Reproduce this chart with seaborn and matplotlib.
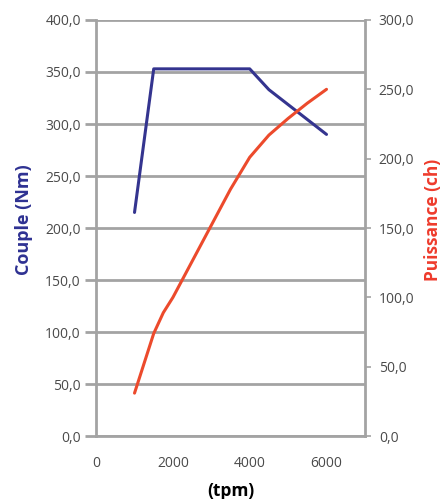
import pandas as pd
import matplotlib.pyplot as plt
import seaborn as sns

# Régime moteur (tpm)
rpm_couple = [1000, 1500, 4000, 4500, 6000]
couple_nm = [215, 353, 353, 333, 290]

rpm_puissance = [1000, 1500, 1750, 2000, 2500, 3000, 3500, 4000, 4500, 5000, 5500, 6000]
puissance_ch = [31, 74, 89, 100, 126, 152, 178, 201, 217, 229, 240, 250]

y_left_ticks = [0, 50, 100, 150, 200, 250, 300, 350, 400]
y_right_ticks = [0, 50, 100, 150, 200, 250, 300]
x_ticks = [0, 2000, 4000, 6000]

bleu = '#34348f'
rouge = '#ec4a2c'
gris = '#a3a3a3'

df_c = pd.DataFrame({'tpm': rpm_couple, 'couple': couple_nm})
df_p = pd.DataFrame({'tpm': rpm_puissance, 'puissance': puissance_ch})

sns.set_style('white')
plt.rcParams['font.family'] = ['Open Sans', 'DejaVu Sans']

fig = plt.figure(figsize=(4.45, 4.99), dpi=100)
ax = fig.add_axes([0.216, 0.126, 0.604, 0.834])
ax2 = ax.twinx()

sns.lineplot(data=df_c, x='tpm', y='couple', ax=ax, color=bleu, linewidth=2.2)
sns.lineplot(data=df_p, x='tpm', y='puissance', ax=ax2, color=rouge, linewidth=2.2)

ax.set_xlim(0, 7000)
ax.set_ylim(0, 400)
ax2.set_ylim(0, 300)
ax.set_xticks(x_ticks)
ax.set_yticks(y_left_ticks)
ax2.set_yticks(y_right_ticks)

fmt = lambda v: f'{v:.1f}'.replace('.', ',')
ax.set_yticklabels([fmt(v) for v in y_left_ticks])
ax2.set_yticklabels([fmt(v) for v in y_right_ticks])
ax.set_xticklabels([str(v) for v in x_ticks])

ax.yaxis.grid(True, color=gris, linewidth=2)
ax.set_axisbelow(True)

for a in (ax, ax2):
    for s in a.spines.values():
        s.set_visible(False)
    a.tick_params(labelsize=10, length=4, width=1.2)
    for lab in a.get_xticklabels() + a.get_yticklabels():
        lab.set_color('#4a4a4a')
ax.tick_params(axis='y', color=gris, length=8, width=2, pad=3)
ax.tick_params(axis='x', color=gris, length=4, width=1.2, pad=10)
ax2.tick_params(axis='y', color=gris, length=4, width=1.2, pad=6)

ax.spines['left'].set_visible(True)
ax.spines['bottom'].set_visible(True)
ax2.spines['right'].set_visible(True)
for s in (ax.spines['left'], ax.spines['bottom'], ax2.spines['right']):
    s.set_color(gris)
    s.set_linewidth(2)

ax.set_xlabel('(tpm)', fontsize=12.5, fontweight='bold', color='black', labelpad=8)
ax.set_ylabel('Couple (Nm)', fontsize=13, fontweight='bold', color='#2e3192')
ax2.set_ylabel('Puissance (ch)', fontsize=12.5, fontweight='bold', color='#ee3b2c')
ax.yaxis.set_label_coords(-0.234, 0.52)
ax2.yaxis.set_label_coords(1.219, 0.52)

fig.savefig('out.png', dpi=100)
